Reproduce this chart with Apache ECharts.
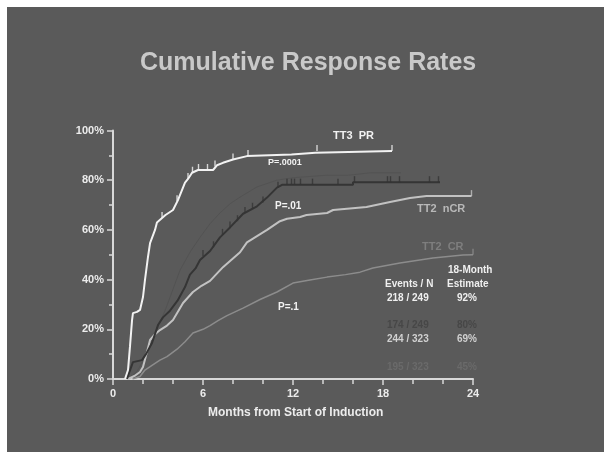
<!DOCTYPE html>
<html><head><meta charset="utf-8">
<script src="https://cdn.jsdelivr.net/npm/echarts@6/dist/echarts.min.js"></script>
<style>
html,body{margin:0;padding:0;background:#fff;}
#wrap{position:relative;width:608px;height:452px;background:#fff;overflow:hidden;}
#panel{position:absolute;left:7px;top:7px;width:597px;height:445px;background:#5a5a5a;}
#chart{position:absolute;left:0;top:0;width:608px;height:452px;}
</style></head>
<body><div id="wrap"><div id="panel"></div><div id="chart"></div></div>
<script>
// ---- data (months, cumulative response %) ----
const xTicks = [0, 6, 12, 18, 24];
const yTicks = ['0%', '20%', '40%', '60%', '80%', '100%'];

const tt3prMonths = [0.8, 1.0, 1.13, 1.27, 1.33, 1.6, 1.8, 2.0, 2.13, 2.33, 2.47, 2.8, 2.93, 3.27, 3.5, 4.0, 4.33, 4.8, 5.0, 5.27, 5.67, 6.67, 6.93, 7.33, 8.0, 8.93, 11.9, 11.9, 13.5, 13.5, 18.6];
const tt3prPct    = [0, 3.6, 12.9, 23.7, 26.5, 27, 27.8, 33, 39.8, 49, 54.7, 60, 63, 64.8, 66, 68, 72, 79, 80.5, 83, 84.1, 84.1, 86, 87, 88.3, 89.7, 90.3, 91, 91, 91.8, 91.8];
const tt3prCensMonths = [3.27, 4.27, 5.0, 5.3, 5.7, 6.3, 6.8, 8.0, 9.0, 13.6, 18.6];
const tt3prCensPct    = [64.8, 71.5, 80.5, 83, 84.1, 84.1, 85.5, 88.3, 89.7, 91.8, 91.8];

const tt3ncrMonths = [0.93, 1.1, 1.33, 1.93, 2.2, 2.6, 3.0, 3.33, 3.8, 4.3, 4.8, 5.13, 5.5, 5.8, 6.47, 7.13, 7.8, 8.67, 9.6, 10.27, 10.93, 11.3, 16.0, 16.0, 21.8];
const tt3ncrPct    = [0, 3, 6.8, 7.6, 10, 14.5, 21.7, 24.8, 27.5, 31.5, 37, 42, 44.5, 47.9, 51.5, 57, 61, 66.5, 69.5, 73, 77, 78.2, 78.2, 79.2, 79.2];
const tt3ncrCensMonths = [6.0, 6.7, 7.3, 7.8, 8.3, 8.8, 9.3, 10.0, 11.0, 11.6, 11.9, 12.1, 12.5, 13.3, 15.0, 16.1, 18.3, 18.5, 19.1, 21.1, 21.7];
const tt3ncrCensPct    = [49.5, 53, 58, 61, 63.5, 66.8, 68.5, 71, 77, 78.2, 78.2, 78.2, 78.2, 78.2, 78.2, 79.2, 79.2, 79.2, 79.2, 79.2, 79.2];

const tt3faintMonths = [1.0, 1.6, 2.13, 2.8, 3.5, 4.47, 5.13, 5.8, 6.47, 7.13, 7.8, 8.47, 9.6, 10.93, 12.0, 14.27, 15.7, 17.2, 19.2];
const tt3faintPct    = [0, 3, 8.8, 18, 28, 43.8, 51, 57, 62.5, 66.8, 70.5, 73.2, 77.3, 80, 81, 82, 82, 83, 83];

const tt2ncrMonths = [1.0, 1.5, 1.8, 2.0, 2.27, 2.47, 2.8, 3.13, 3.6, 4.0, 4.67, 5.33, 5.9, 6.47, 7.33, 8.47, 8.93, 9.6, 10.27, 11.13, 11.6, 12.47, 12.9, 14.27, 14.67, 16.9, 18.47, 19.8, 20.9, 23.9];
const tt2ncrPct    = [0, 1.5, 2.8, 4.8, 11, 15.7, 18, 19.7, 21.5, 23.7, 30.6, 35, 37.5, 39.5, 45, 51, 55, 57.5, 60, 63.5, 64.5, 65.2, 66, 66.8, 68, 69.2, 71.2, 72.8, 73.6, 73.6];
const tt2ncrCensMonths = [23.9];
const tt2ncrCensPct    = [73.6];

const tt2crMonths = [1.3, 1.8, 2.13, 2.6, 3.13, 3.6, 4.27, 4.8, 5.33, 6.0, 6.47, 7.0, 7.6, 8.67, 9.8, 10.93, 12.0, 13.13, 14.27, 15.5, 16.47, 17.33, 19.13, 21.33, 23.33, 24.0];
const tt2crPct    = [0, 1, 3.6, 5.5, 7.6, 9, 12, 15, 18.5, 20, 21.5, 23.5, 25.5, 28.5, 32, 35, 38.6, 39.8, 41, 42, 43, 44.7, 46.7, 48.7, 49.9, 50];
const tt2crCensMonths = [24.0];
const tt2crCensPct    = [50];

const tableHeader = ['18-Month', 'Events / N', 'Estimate'];
const tableEvents = ['218 / 249', '174 / 249', '244 / 323', '195 / 323'];
const tableEstimates = ['92%', '80%', '69%', '45%'];
const pValues = ['P=.0001', 'P=.01', 'P=.1'];
const curveLabels = ['TT3  PR', 'TT2  nCR', 'TT2  CR'];

// ---- build ----
function pairs(xs, ys){ return xs.map((x,i)=>[x, ys[i]]); }
const FONT = '"Liberation Sans", Arial, sans-serif';

function lineSeries(xs, ys, color, width, z){
  return {type:'line', data:pairs(xs,ys), showSymbol:false, symbol:'none', silent:true,
    lineStyle:{color:color, width:width}, z:z, animation:false};
}
function censSeries(xs, ys, color, z){
  return {type:'scatter', data:pairs(xs,ys), symbol:'rect', symbolSize:[1.4,6], symbolOffset:[0,-3],
    itemStyle:{color:color}, silent:true, z:z, animation:false};
}
function txt(left, top, text, color, size){
  return {type:'text', left:left, top:top, silent:true, z:20,
    style:{text:text, fill:color, font:'bold '+size+'px '+FONT}};
}

const chart = echarts.init(document.getElementById('chart'), null, {renderer:'canvas'});
chart.setOption({
  backgroundColor:'transparent',
  animation:false,
  grid:{left:113, right:135, top:130.5, bottom:73},
  xAxis:{type:'value', min:0, max:24, interval:6,
    axisLine:{show:true, lineStyle:{color:'#d8d8d8', width:2}},
    axisTick:{show:true, length:6, lineStyle:{color:'#d8d8d8', width:1.5}},
    minorTick:{show:true, splitNumber:3, length:5, lineStyle:{color:'#d8d8d8', width:1.5}},
    splitLine:{show:false},
    axisLabel:{color:'#ececec', fontSize:11, fontWeight:'bold', fontFamily:FONT, margin:9,
      formatter:(v)=> xTicks.includes(v) ? String(v) : ''}
  },
  yAxis:{type:'value', min:0, max:100, interval:20,
    axisLine:{show:true, lineStyle:{color:'#d8d8d8', width:2}},
    axisTick:{show:true, length:6, lineStyle:{color:'#d8d8d8', width:1.5}},
    minorTick:{show:true, splitNumber:2, length:4, lineStyle:{color:'#d8d8d8', width:1.5}},
    splitLine:{show:false},
    axisLabel:{color:'#ececec', fontSize:11, fontWeight:'bold', fontFamily:FONT, margin:9,
      formatter:(v)=> yTicks[Math.round(v/20)]}
  },
  series:[
    lineSeries(tt3faintMonths, tt3faintPct, '#535353', 1, 2),
    lineSeries(tt2crMonths, tt2crPct, '#8c8c8c', 1.5, 3),
    censSeries(tt2crCensMonths, tt2crCensPct, '#8c8c8c', 3),
    lineSeries(tt2ncrMonths, tt2ncrPct, '#c2c2c2', 2, 4),
    censSeries(tt2ncrCensMonths, tt2ncrCensPct, '#c2c2c2', 4),
    lineSeries(tt3ncrMonths, tt3ncrPct, '#353535', 2, 5),
    censSeries(tt3ncrCensMonths, tt3ncrCensPct, '#353535', 5),
    lineSeries(tt3prMonths, tt3prPct, '#f2f2f2', 2, 6),
    censSeries(tt3prCensMonths, tt3prCensPct, '#f2f2f2', 6)
  ],
  graphic:[
    {type:'text', left:140, top:51, silent:true, z:20,
      style:{text:'Cumulative Response Rates', fill:'#c9c9c9', font:'bold 25px '+FONT}},
    {type:'text', left:208, top:407, silent:true, z:20,
      style:{text:'Months from Start of Induction', fill:'#ececec', font:'bold 12px '+FONT}},
    txt(333, 130, curveLabels[0], '#f2f2f2', 11),
    txt(417, 203, curveLabels[1], '#b8b8b8', 11),
    txt(422, 241, curveLabels[2], '#7e7e7e', 11),
    txt(268, 158, pValues[0], '#f2f2f2', 9),
    txt(275, 201, pValues[1], '#f2f2f2', 10),
    txt(278, 302, pValues[2], '#f2f2f2', 10),
    txt(448, 265, tableHeader[0], '#efefef', 10),
    txt(385, 279, tableHeader[1], '#efefef', 10),
    txt(447, 279, tableHeader[2], '#efefef', 10),
    txt(387, 293, tableEvents[0], '#efefef', 10),
    txt(457, 293, tableEstimates[0], '#efefef', 10),
    txt(387, 320, tableEvents[1], '#474747', 10),
    txt(457, 320, tableEstimates[1], '#474747', 10),
    txt(387, 334, tableEvents[2], '#d0d0d0', 10),
    txt(457, 334, tableEstimates[2], '#d0d0d0', 10),
    txt(387, 362, tableEvents[3], '#6a6a6a', 10),
    txt(457, 362, tableEstimates[3], '#6a6a6a', 10)
  ]
});
</script></body></html>
